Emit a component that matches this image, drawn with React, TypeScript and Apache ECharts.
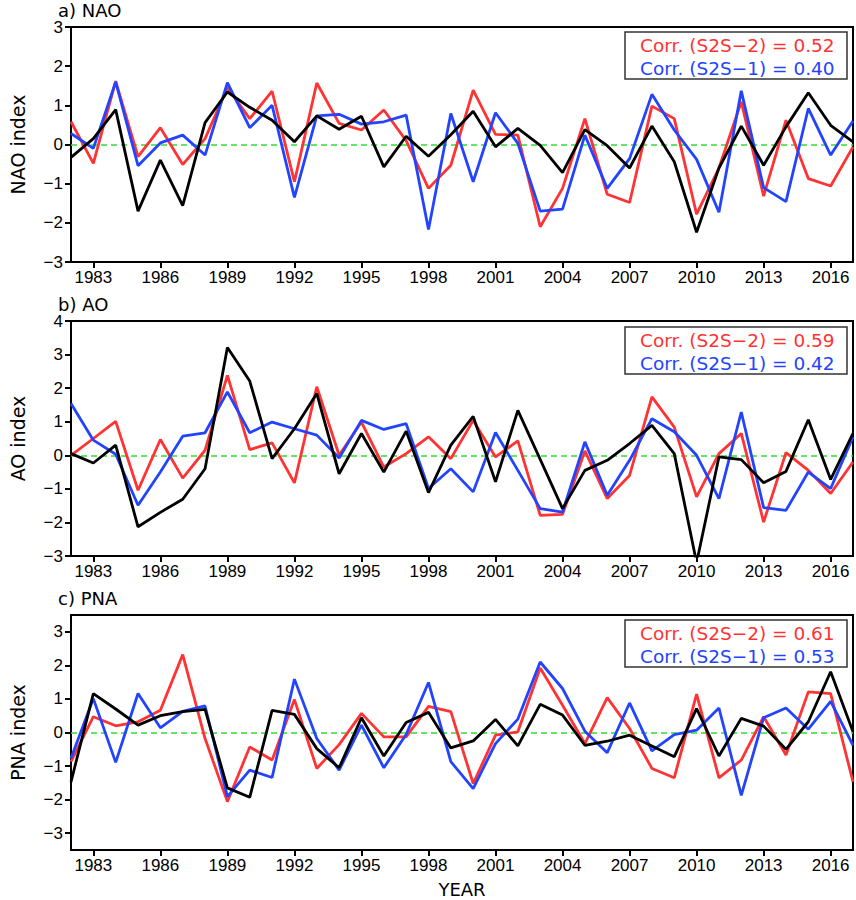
import React, { useEffect, useRef } from "react";
import * as echarts from "echarts";

const years = [
  "1982", "1983", "1984", "1985", "1986", "1987", "1988", "1989", "1990", "1991",
  "1992", "1993", "1994", "1995", "1996", "1997", "1998", "1999", "2000", "2001",
  "2002", "2003", "2004", "2005", "2006", "2007", "2008", "2009", "2010", "2011",
  "2012", "2013", "2014", "2015", "2016", "2017",
];

const naoS2S2 = [0.58, -0.48, 1.62, -0.31, 0.43, -0.51, 0.15, 1.45, 0.66, 1.36, -0.95, 1.57, 0.54, 0.37, 0.88, 0.1, -1.12, -0.53, 1.39, 0.26, 0.24, -2.1, -1.12, 0.66, -1.27, -1.48, 0.98, 0.66, -1.78, -0.6, 1.09, -1.32, 0.62, -0.87, -1.06, -0.06];
const naoS2S1 = [0.28, -0.1, 1.6, -0.54, 0.04, 0.24, -0.27, 1.58, 0.43, 1.0, -1.35, 0.73, 0.77, 0.52, 0.58, 0.75, -2.17, 0.79, -0.95, 0.81, 0.03, -1.7, -1.65, 0.24, -1.12, -0.36, 1.28, 0.37, -0.38, -1.73, 1.37, -1.1, -1.46, 0.92, -0.27, 0.6];
const naoObs = [-0.33, 0.15, 0.89, -1.7, -0.4, -1.56, 0.56, 1.34, 0.95, 0.62, 0.07, 0.73, 0.39, 0.72, -0.57, 0.21, -0.3, 0.25, 0.85, -0.06, 0.41, -0.02, -0.72, 0.38, -0.03, -0.6, 0.47, -0.44, -2.24, -0.6, 0.47, -0.53, 0.45, 1.32, 0.49, 0.07];

const aoS2S2 = [0.0, 0.5, 1.01, -1.04, 0.47, -0.68, 0.15, 2.38, 0.17, 0.37, -0.82, 2.04, 0.0, 0.99, -0.35, 0.05, 0.55, -0.1, 1.04, -0.05, 0.43, -1.79, -1.76, 0.13, -1.29, -0.6, 1.74, 0.84, -1.24, 0.05, 0.65, -1.99, 0.08, -0.45, -1.14, -0.2];
const aoS2S1 = [1.54, 0.45, 0.03, -1.49, -0.5, 0.57, 0.67, 1.89, 0.67, 0.99, 0.79, 0.6, -0.08, 1.04, 0.77, 0.94, -0.99, -0.4, -1.09, 0.68, -0.45, -1.59, -1.69, 0.4, -1.19, -0.15, 1.09, 0.7, 0.0, -1.29, 1.29, -1.56, -1.64, -0.5, -0.99, 0.55];
const aoObs = [0.05, -0.23, 0.3, -2.13, -1.7, -1.31, -0.4, 3.21, 2.21, -0.1, 0.79, 1.84, -0.55, 0.65, -0.5, 0.72, -1.11, 0.3, 1.16, -0.79, 1.34, -0.12, -1.59, -0.45, -0.15, 0.35, 0.89, 0.05, -3.2, -0.05, -0.13, -0.82, -0.48, 1.06, -0.72, 0.65];

const pnaS2S2 = [-0.87, 0.47, 0.2, 0.32, 0.66, 2.32, -0.18, -2.06, -0.43, -0.82, 0.98, -1.07, -0.36, 0.57, -0.13, -0.13, 0.78, 0.62, -1.52, -0.08, 0.02, 1.92, 0.81, -0.33, 1.04, 0.12, -1.07, -1.35, 1.14, -1.35, -0.82, 0.47, -0.67, 1.21, 1.16, -1.47];
const pnaS2S1 = [-0.77, 1.01, -0.89, 1.16, 0.14, 0.63, 0.79, -1.91, -1.12, -1.34, 1.59, -0.18, -1.12, 0.22, -1.05, -0.06, 1.49, -0.87, -1.67, -0.33, 0.4, 2.1, 1.31, 0.04, -0.6, 0.88, -0.55, -0.06, 0.07, 0.73, -1.87, 0.44, 0.73, 0.1, 0.93, -0.38];
const pnaObs = [-1.47, 1.16, 0.7, 0.22, 0.5, 0.62, 0.69, -1.65, -1.93, 0.66, 0.54, -0.48, -1.05, 0.44, -0.7, 0.3, 0.6, -0.46, -0.25, 0.39, -0.4, 0.84, 0.52, -0.38, -0.26, -0.08, -0.4, -0.72, 0.71, -0.7, 0.42, 0.19, -0.5, 0.32, 1.81, 0.02];

const panelTitles = ["a) NAO", "b) AO", "c) PNA"];
const yNames = ["NAO index", "AO index", "PNA index"];
const yMins = [-3, -3, -3.5];
const yMaxs = [3, 4, 3.5];
const yTicks = [
  [-3, -2, -1, 0, 1, 2, 3],
  [-3, -2, -1, 0, 1, 2, 3, 4],
  [-3, -2, -1, 0, 1, 2, 3],
];
const corrS2S2 = ["0.52", "0.59", "0.61"];
const corrS2S1 = ["0.40", "0.42", "0.53"];

const RED = "#ff3333";
const BLUE = "#2244ff";
const BLACK = "#000000";
const GREEN = "#33dd33";
const FONT = "Liberation Sans, Arial, sans-serif";
const WFONT = "DejaVu Sans, sans-serif";

const gridTops = [27, 321, 615];
const gridH = 235;

function fmt(v: number) {
  return v < 0 ? "\u2212" + Math.abs(v) : String(v);
}

export default function App() {
  const ref = useRef<HTMLDivElement>(null);
  useEffect(() => {
    const chart = echarts.init(ref.current!, null, { renderer: "svg" });
    const dataSets = [
      [naoS2S2, naoS2S1, naoObs],
      [aoS2S2, aoS2S1, aoObs],
      [pnaS2S2, pnaS2S1, pnaObs],
    ];
    const labelInterval = (index: number) => index % 3 === 1;
    const grids = gridTops.map((t) => ({
      left: 54,
      right: 3,
      top: t,
      height: gridH,
      show: true,
      borderColor: "#000",
      borderWidth: 2,
      backgroundColor: "transparent",
    }));
    const xAxes = gridTops.map((_, i) => ({
      type: "category",
      gridIndex: i,
      data: years,
      boundaryGap: false,
      axisLine: { show: true, onZero: false, lineStyle: { color: "#000", width: 2 } },
      axisTick: { show: true, interval: labelInterval, length: 6, inside: false, lineStyle: { color: "#000", width: 2 } },
      axisLabel: { interval: labelInterval, color: "#000", fontSize: 17, fontFamily: FONT, margin: 7 },
      splitLine: { show: false },
      name: i === 2 ? "YEAR" : "",
      nameLocation: "middle",
      nameGap: 30,
      nameTextStyle: { color: "#000", fontSize: 18, fontFamily: WFONT },
    }));
    const yAxes = gridTops.map((_, i) => ({
      type: "value",
      gridIndex: i,
      min: yMins[i],
      max: yMaxs[i],
      axisLine: { show: true, onZero: false, lineStyle: { color: "#000", width: 2 } },
      axisTick: { show: true, length: 6, inside: false, customValues: yTicks[i], lineStyle: { color: "#000", width: 2 } },
      axisLabel: { color: "#000", fontSize: 17, lineHeight: 14, fontFamily: FONT, margin: 8, customValues: yTicks[i], formatter: (v: number) => fmt(v) },
      splitLine: { show: false },
      name: yNames[i],
      nameLocation: "middle",
      nameGap: 44,
      nameTextStyle: { color: "#000", fontSize: 19, fontFamily: WFONT },
    }));
    const series: any[] = [];
    dataSets.forEach((ds, i) => {
      const colors = [RED, BLUE, BLACK];
      const names = ["S2S-2", "S2S-1", "OBS"];
      ds.forEach((d, j) => {
        const s: any = {
          type: "line",
          name: names[j],
          xAxisIndex: i,
          yAxisIndex: i,
          data: d,
          showSymbol: false,
          symbol: "none",
          lineStyle: { color: colors[j], width: 2.8 },
          itemStyle: { color: colors[j] },
          z: 3 + j,
        };
        if (j === 0) {
          s.markLine = {
            silent: true,
            symbol: "none",
            label: { show: false },
            lineStyle: { color: GREEN, type: [6, 4], width: 1.6 },
            data: [{ yAxis: 0 }],
            z: 2,
          };
        }
        series.push(s);
      });
    });
    const graphic: any[] = [];
    panelTitles.forEach((t, i) => {
      graphic.push({
        type: "text",
        z: 101,
        x: 58,
        y: gridTops[i] - 17,
        style: { text: t, fill: "#000", fontSize: 18, lineHeight: 16, fontFamily: WFONT, verticalAlign: "middle", align: "left" },
      });
    });
    const boxTops = [32, 327, 620];
    boxTops.forEach((bt, i) => {
      graphic.push({
        type: "rect",
        z: 100,
        shape: { x: 625, y: bt, width: 222, height: 47 },
        style: { fill: "#fff", stroke: "#333", lineWidth: 1.5 },
      });
      graphic.push({
        type: "text",
        z: 101,
        x: 640,
        y: bt + 13,
        style: { text: "Corr. (S2S\u22122) = " + corrS2S2[i], fill: RED, fontSize: 18.5, fontFamily: WFONT, verticalAlign: "middle", align: "left" },
      });
      graphic.push({
        type: "text",
        z: 101,
        x: 640,
        y: bt + 36,
        style: { text: "Corr. (S2S\u22121) = " + corrS2S1[i], fill: BLUE, fontSize: 18.5, fontFamily: WFONT, verticalAlign: "middle", align: "left" },
      });
    });
    chart.setOption({
      animation: false,
      backgroundColor: "#fff",
      grid: grids,
      xAxis: xAxes,
      yAxis: yAxes,
      series,
      graphic,
    });
    return () => chart.dispose();
  }, []);
  return (
    <div
      ref={ref}
      style={{ position: "absolute", left: 0, top: 0, width: 856, height: 900, background: "#fff" }}
    />
  );
}
